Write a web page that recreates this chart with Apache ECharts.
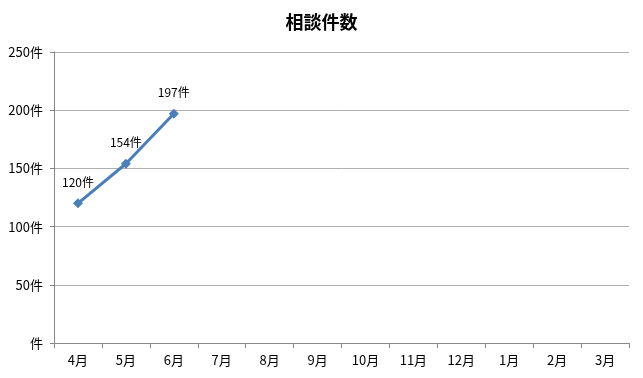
<!DOCTYPE html>
<html><head><meta charset="utf-8">
<script src="https://cdn.jsdelivr.net/npm/echarts@6/dist/echarts.min.js"></script>
<style>html,body{margin:0;padding:0;background:#fff}#c{width:643px;height:378px}</style>
</head><body><div id="c"></div>
<script>
const titleText = '相談件数';
const months = ['4月','5月','6月','7月','8月','9月','10月','11月','12月','1月','2月','3月'];
const counts = [120, 154, 197];
const yMin = 0, yMax = 250, yStep = 50;

const chart = echarts.init(document.getElementById('c'));
const font = '"Noto Sans CJK JP", "Noto Sans", sans-serif';
chart.setOption({
  animation: false,
  backgroundColor: '#ffffff',
  title: {text: titleText, left: 'center', top: 8,
    textStyle: {fontFamily: font, fontSize: 18, fontWeight: 'bold', color: '#000'}},
  grid: {left: 54, right: 14, top: 52, bottom: 35},
  xAxis: {type: 'category', data: months, boundaryGap: true,
    axisLine: {lineStyle: {color: '#888', width: 1}},
    axisTick: {show: true, length: 5, lineStyle: {color: '#888'}},
    axisLabel: {fontFamily: font, fontSize: 13, color: '#000', margin: 11},
    splitLine: {show: false}},
  yAxis: {type: 'value', min: yMin, max: yMax, interval: yStep,
    axisLine: {show: true, lineStyle: {color: '#888', width: 1}},
    axisTick: {show: true, length: 4, lineStyle: {color: '#888'}},
    axisLabel: {fontFamily: font, fontSize: 13, color: '#000', margin: 11,
      formatter: v => (v === 0 ? '' : v) + '件'},
    splitLine: {lineStyle: {color: '#b0b0b0', width: 1}}},
  series: [{type: 'line', data: counts, symbol: 'diamond', symbolSize: 10,
    lineStyle: {color: '#4a7ebb', width: 3}, itemStyle: {color: '#4a7ebb'},
    label: {show: true, position: 'top', distance: 10, fontFamily: font, fontSize: 12, color: '#000',
      formatter: p => p.value + '件'}}]
});
</script></body></html>
